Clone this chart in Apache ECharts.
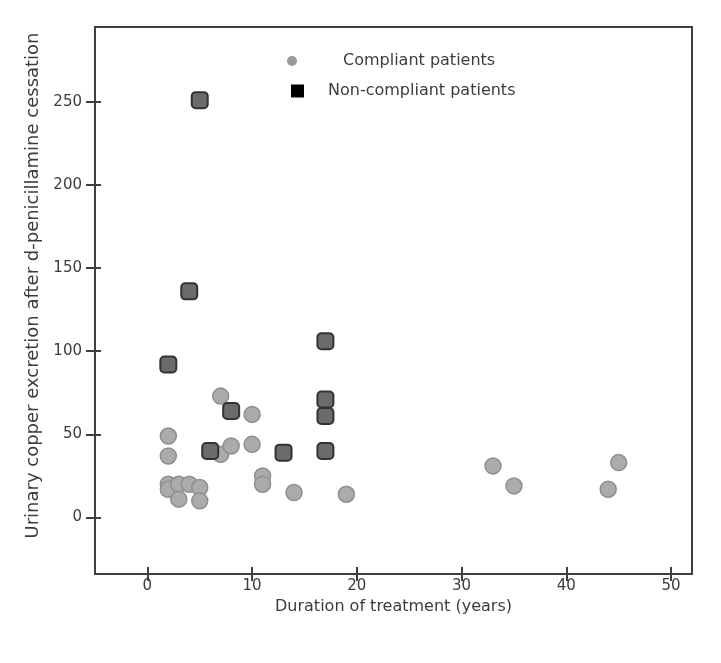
<!DOCTYPE html>
<html>
<head>
<meta charset="utf-8">
<script src="https://cdn.jsdelivr.net/npm/echarts@6/dist/echarts.min.js"></script>
<style>
html,body{margin:0;padding:0;background:#fff;}
#chart{width:721px;height:663px;}
</style>
</head>
<body>
<div id="chart"></div>
<script>
// Data
var compliantX = [2, 2, 2, 2, 3, 4, 5, 3, 5, 7, 7, 8, 10, 10, 11, 11, 14, 19, 33, 35, 44, 45];
var compliantY = [49, 37, 20, 17, 20, 20, 18, 11, 10, 73, 38, 43, 62, 44, 25, 20, 15, 14, 31, 19, 17, 33];
var nonCompliantX = [5, 4, 2, 17, 17, 17, 8, 6, 13, 17];
var nonCompliantY = [251, 136, 92, 106, 71, 61, 64, 40, 39, 40];
var xTicks = [0, 10, 20, 30, 40, 50];
var yTicks = [0, 50, 100, 150, 200, 250];
var seriesNames = ['Compliant patients', 'Non-compliant patients'];
var xTitle = 'Duration of treatment (years)';
var yTitle = 'Urinary copper excretion after d-penicillamine cessation';

function pairs(xs, ys) { return xs.map(function (x, i) { return [x, ys[i]]; }); }

var FONT = 'DejaVu Sans';
var TXT = '#3c3c3c';
var AX = '#3f3f3f';
var chart = echarts.init(document.getElementById('chart'), null, {renderer: 'canvas'});
var xMin = -5, xMax = 52, yMin = -34, yMax = 295;

chart.setOption({
  animation: false,
  backgroundColor: '#ffffff',
  grid: {left: 95, right: 29, top: 27, bottom: 89, show: true, borderColor: AX, borderWidth: 2, backgroundColor: 'transparent'},
  legend: [
    {
      data: [{name: seriesNames[0], icon: 'circle', itemStyle: {color: '#9a9a9a', borderWidth: 0}}],
      left: 287, top: 53, padding: 0, itemWidth: 10, itemHeight: 10, selectedMode: false,
      textStyle: {fontFamily: FONT, fontSize: 16, color: TXT, padding: [0, 0, 0, 41]}
    },
    {
      data: [{name: seriesNames[1], icon: 'rect', itemStyle: {color: '#000000', borderWidth: 0}}],
      left: 291, top: 83, padding: 0, itemWidth: 13, itemHeight: 13, selectedMode: false,
      textStyle: {fontFamily: FONT, fontSize: 16, color: TXT, padding: [0, 0, 0, 19]}
    }
  ],
  xAxis: [
    {
      type: 'value', min: xMin, max: xMax, position: 'bottom',
      name: xTitle, nameLocation: 'middle', nameGap: 24,
      nameTextStyle: {fontFamily: FONT, fontSize: 16, color: TXT},
      axisLine: {show: false, onZero: false}, splitLine: {show: false},
      axisTick: {show: true, inside: false, length: 7, customValues: xTicks, lineStyle: {color: AX, width: 2}},
      axisLabel: {fontFamily: FONT, fontSize: 15, color: TXT, margin: 5, customValues: xTicks}
    },
    {
      type: 'value', min: xMin, max: xMax, position: 'bottom',
      axisLine: {show: false, onZero: false}, splitLine: {show: false},
      axisTick: {show: true, inside: true, length: 7, customValues: xTicks, lineStyle: {color: AX, width: 2}},
      axisLabel: {show: false, customValues: xTicks}
    }
  ],
  yAxis: [
    {
      type: 'value', min: yMin, max: yMax, position: 'left',
      name: yTitle, nameLocation: 'middle', nameGap: 53, nameRotate: 90,
      nameTextStyle: {fontFamily: FONT, fontSize: 18, color: TXT, padding: [0, 0, 0, 30]},
      axisLine: {show: false, onZero: false}, splitLine: {show: false},
      axisTick: {show: true, inside: false, length: 9, customValues: yTicks, lineStyle: {color: AX, width: 2}},
      axisLabel: {fontFamily: FONT, fontSize: 15, color: TXT, margin: 13, customValues: yTicks}
    },
    {
      type: 'value', min: yMin, max: yMax, position: 'left',
      axisLine: {show: false, onZero: false}, splitLine: {show: false},
      axisTick: {show: true, inside: true, length: 6, customValues: yTicks, lineStyle: {color: AX, width: 2}},
      axisLabel: {show: false, customValues: yTicks}
    }
  ],
  series: [
    {
      name: seriesNames[0], type: 'scatter', xAxisIndex: 0, yAxisIndex: 0,
      symbol: 'circle', symbolSize: 16,
      itemStyle: {color: '#ababab', borderColor: '#8e8e8e', borderWidth: 1.5, opacity: 1},
      data: pairs(compliantX, compliantY)
    },
    {
      name: seriesNames[1], type: 'scatter', xAxisIndex: 0, yAxisIndex: 0,
      symbol: 'roundRect', symbolSize: 16,
      itemStyle: {color: '#6b6b6b', borderColor: '#333333', borderWidth: 2, opacity: 1},
      data: pairs(nonCompliantX, nonCompliantY)
    }
  ]
});
</script>
</body>
</html>
